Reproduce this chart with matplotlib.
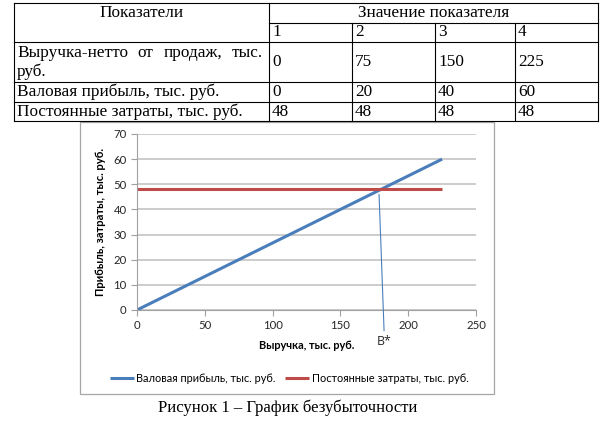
import matplotlib.pyplot as plt
from matplotlib.patches import Rectangle

# данные таблицы
periods = ['1', '2', '3', '4']
revenue = [0, 75, 150, 225]
gross_profit = [0, 20, 40, 60]
fixed_costs = [48, 48, 48, 48]
row_names = ['Выручка-нетто от продаж, тыс. руб.',
             'Валовая прибыль, тыс. руб.',
             'Постоянные затраты, тыс. руб.']
x_ticks = [0, 50, 100, 150, 200, 250]
y_ticks = [0, 10, 20, 30, 40, 50, 60, 70]

blue = '#4a7ebb'
red = '#be4b48'
grid_c = '#bfbfbf'
sans = 'Lato'
serif = 'Liberation Serif'

fig = plt.figure(figsize=(6.11, 4.23), dpi=100)

# фон в пиксельных координатах: таблица, рамка диаграммы, подпись
bg = fig.add_axes([0, 0, 1, 1])
bg.set_xlim(0, 611)
bg.set_ylim(423, 0)
bg.axis('off')

col_x = [14, 269, 352, 435, 515, 598]
row_y = [3, 23, 42, 82, 102, 121]
lw = 0.8
for x in col_x:
    top = row_y[0] if x in (col_x[0], col_x[1], col_x[-1]) else row_y[1]
    bg.plot([x, x], [top, row_y[-1]], color='black', lw=lw)
for y in row_y:
    left = col_x[1] if y == row_y[1] else col_x[0]
    bg.plot([left, col_x[-1]], [y, y], color='black', lw=lw)

fs = 12.4
bg.text((col_x[0] + col_x[1]) / 2, 13, 'Показатели', ha='center', va='center',
        family=serif, fontsize=fs)
bg.text((col_x[1] + col_x[-1]) / 2, 13, 'Значение показателя', ha='center', va='center',
        family=serif, fontsize=fs)
for i, p in enumerate(periods):
    bg.text(col_x[i + 1] + 3, 32.5, p, ha='left', va='center', family=serif, fontsize=fs)

# первая строка выровнена по ширине ячейки
words = row_names[0].split()
line1 = [bg.text(0, 53, w, ha='left', va='center', family=serif, fontsize=fs)
         for w in words[:4]]
renderer = fig.canvas.get_renderer()
widths = [t.get_window_extent(renderer).width for t in line1]
x_left, x_right = col_x[0] + 3, col_x[1] - 6
gap = (x_right - x_left - sum(widths)) / (len(line1) - 1)
x = x_left
for t, w in zip(line1, widths):
    t.set_x(x)
    x += w + gap
bg.text(col_x[0] + 3, 72, words[4], ha='left', va='center', family=serif, fontsize=fs)
bg.text(col_x[0] + 3, 92, row_names[1], ha='left', va='center', family=serif, fontsize=fs)
bg.text(col_x[0] + 3, 111.5, row_names[2], ha='left', va='center', family=serif, fontsize=fs)

row_mid = [62, 92, 111.5]
for vals, y in zip([revenue, gross_profit, fixed_costs], row_mid):
    for i, v in enumerate(vals):
        bg.text(col_x[i + 1] + 3, y, str(v), ha='left', va='center', family=serif, fontsize=fs)

bg.add_patch(Rectangle((80, 122), 414, 272, fill=False, edgecolor='#a6a6a6', lw=0.9))
bg.text(288, 408, 'Рисунок 1 – График безубыточности', ha='center', va='center',
        family=serif, fontsize=12)

# диаграмма
ax = fig.add_axes([137 / 611, 1 - 310 / 423, 339 / 611, 176 / 423])
ax.patch.set_alpha(0)
ax.plot(revenue, gross_profit, color=blue, lw=2.2, label='Валовая прибыль, тыс. руб.',
        solid_capstyle='butt')
ax.plot(revenue, fixed_costs, color=red, lw=2.2, label='Постоянные затраты, тыс. руб.',
        solid_capstyle='butt')

# точка безубыточности
slope = (gross_profit[-1] - gross_profit[0]) / (revenue[-1] - revenue[0])
be_x = fixed_costs[0] / slope
ax.annotate('В*', xy=(be_x - 1.5, fixed_costs[0] - 2), xytext=(be_x + 2.5, -12.5),
            textcoords='data', ha='center', va='center', fontsize=8.8, family='Open Sans',
            color='#262626', annotation_clip=False,
            arrowprops=dict(arrowstyle='-', color=blue, lw=0.8, shrinkA=1, shrinkB=0))

ax.set_xlim(x_ticks[0], x_ticks[-1])
ax.set_ylim(y_ticks[0], y_ticks[-1])
ax.set_xticks(x_ticks)
ax.set_yticks(y_ticks)
ax.grid(axis='y', color=grid_c, lw=1.1)
ax.set_axisbelow(True)
for s in ['top', 'right']:
    ax.spines[s].set_visible(False)
for s in ['left', 'bottom']:
    ax.spines[s].set_color('#a0a0a0')
ax.tick_params(direction='out', length=4, color='#a0a0a0', labelsize=8.2,
               labelcolor='#262626')
ax.tick_params(axis='x', pad=3)
for lab in ax.get_xticklabels() + ax.get_yticklabels():
    lab.set_family(sans)

ax.set_xlabel('Выручка, тыс. руб.', family=sans, fontsize=7.9, fontweight='bold', labelpad=7)
ax.set_ylabel('Прибыль, затраты, тыс. руб.', family=sans, fontsize=8.1, fontweight='bold',
              labelpad=5)

fig.legend(loc='center', bbox_to_anchor=(289 / 611, 1 - 378 / 423), ncol=2, frameon=False,
           prop={'family': sans, 'size': 7.9}, handlelength=2.2, handletextpad=0.2,
           columnspacing=0.9)

fig.savefig('out.png', dpi=100)
